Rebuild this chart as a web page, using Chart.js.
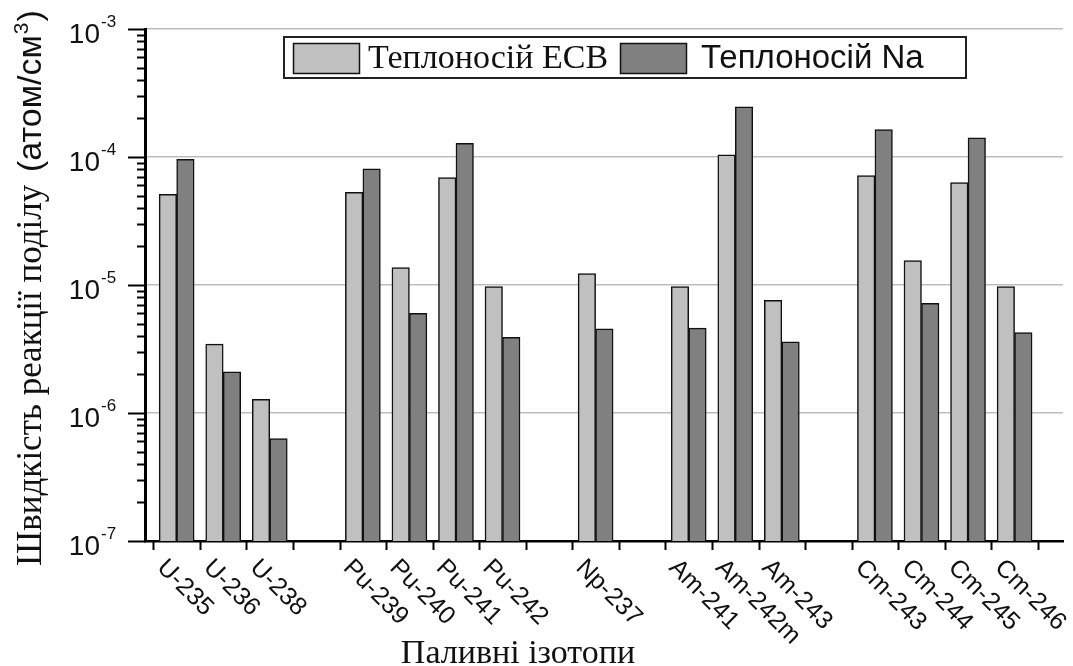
<!DOCTYPE html>
<html>
<head>
<meta charset="utf-8">
<script src="https://cdn.jsdelivr.net/npm/chart.js@4.4.1/dist/chart.umd.min.js"></script>
<style>
  html, body { margin: 0; padding: 0; background: #fff; }
  canvas { display: block; }
</style>
</head>
<body>
<canvas id="chart" width="1073" height="666"></canvas>
<script>
// Fuel isotopes; empty strings are spacer slots between element groups
const isotopes = ['U-235', 'U-236', 'U-238', '', 'Pu-239', 'Pu-240', 'Pu-241', 'Pu-242', '',
  'Np-237', '', 'Am-241', 'Am-242m', 'Am-243', '', 'Cm-243', 'Cm-244', 'Cm-245', 'Cm-246'];

// Fission reaction rates, atom/cm3
const ecbRates = [5.1e-5, 3.45e-6, 1.28e-6, null, 5.3e-5, 1.37e-5, 6.9e-5, 9.7e-6, null,
  1.23e-5, null, 9.7e-6, 1.04e-4, 7.6e-6, null, 7.15e-5, 1.55e-5, 6.3e-5, 9.7e-6];
const naRates = [9.6e-5, 2.1e-6, 6.3e-7, null, 8.1e-5, 6.0e-6, 1.28e-4, 3.9e-6, null,
  4.55e-6, null, 4.6e-6, 2.47e-4, 3.6e-6, null, 1.64e-4, 7.2e-6, 1.41e-4, 4.25e-6];

const seriesNames = ['Теплоносій ЕСВ', 'Теплоносій Na'];
const seriesColors = ['#c0c0c0', '#808080'];
const yDecades = [-7, -6, -5, -4, -3];
const xTitle = 'Паливні ізотопи';
const yTitleMain = 'Швидкість реакції поділу';
const yTitleUnit = '(атом/см';

const SERIF = '"Liberation Serif", "Times New Roman", serif';
const SANS = '"Liberation Sans", Arial, sans-serif';

const toPoints = vals => vals.map((v, i) => ({ x: i + 0.5, y: v }));

const isDecade = v => Math.abs(Math.log10(v) - Math.round(Math.log10(v))) < 1e-9;

const decorations = {
  id: 'decorations',
  afterDraw(chart) {
    const { ctx, chartArea, scales } = chart;
    const xs = scales.x, ys = scales.y;
    const left = chartArea.left, bottom = chartArea.bottom;
    ctx.save();

    // y-axis tick marks: long at decades, short at 2..9
    ctx.strokeStyle = '#000';
    ctx.lineWidth = 2;
    yDecades.forEach((d, k) => {
      const y = Math.round(ys.getPixelForValue(Math.pow(10, d))) + 0.5;
      ctx.beginPath(); ctx.moveTo(left - 17, y); ctx.lineTo(left + 1, y); ctx.stroke();
      if (k < yDecades.length - 1) {
        for (let m = 2; m <= 9; m++) {
          const ym = Math.round(ys.getPixelForValue(m * Math.pow(10, d))) + 0.5;
          ctx.beginPath(); ctx.moveTo(left - 8, ym); ctx.lineTo(left + 2, ym); ctx.stroke();
        }
      }
    });

    // x-axis tick marks on slot boundaries
    for (let i = 0; i <= isotopes.length; i++) {
      const x = Math.round(xs.getPixelForValue(i)) + 0.5;
      ctx.beginPath(); ctx.moveTo(x, bottom); ctx.lineTo(x, bottom + 9); ctx.stroke();
    }

    // y tick labels 10^d
    ctx.fillStyle = '#111';
    yDecades.forEach(d => {
      const y = ys.getPixelForValue(Math.pow(10, d));
      ctx.font = '28px ' + SANS;
      ctx.textAlign = 'right';
      ctx.textBaseline = 'alphabetic';
      ctx.fillText('10', 100, y + 14);
      ctx.font = '17px ' + SANS;
      ctx.textAlign = 'left';
      ctx.fillText(String(d), 101, y - 2);
    });

    // x tick labels, rotated clockwise
    ctx.font = '25px ' + SANS;
    ctx.textAlign = 'left';
    ctx.textBaseline = 'top';
    isotopes.forEach((name, i) => {
      if (!name) return;
      const cx = xs.getPixelForValue(i + 0.5);
      ctx.save();
      ctx.translate(cx - 7, bottom + 14);
      ctx.rotate(Math.PI / 4);
      ctx.fillText(name, 0, 0);
      ctx.restore();
    });

    // x axis title
    ctx.font = '34px ' + SERIF;
    ctx.textAlign = 'center';
    ctx.textBaseline = 'alphabetic';
    ctx.fillText(xTitle, 518, 663);

    // y axis title: serif name followed by sans unit
    ctx.save();
    ctx.translate(41, 566);
    ctx.rotate(-Math.PI / 2);
    ctx.textAlign = 'left';
    ctx.font = '35px ' + SERIF;
    ctx.fillText(yTitleMain, 0, 0);
    let pos = ctx.measureText(yTitleMain + ' ').width + 4;
    ctx.font = '34px ' + SANS;
    ctx.fillText(yTitleUnit, pos, 0);
    pos += ctx.measureText(yTitleUnit).width;
    ctx.font = '21px ' + SANS;
    ctx.fillText('3', pos + 1, -13);
    pos += ctx.measureText('3').width + 2;
    ctx.font = '34px ' + SANS;
    ctx.fillText(')', pos, 0);
    ctx.restore();

    // legend box
    ctx.fillStyle = '#fff';
    ctx.fillRect(284, 37, 682, 41);
    ctx.strokeStyle = '#222';
    ctx.lineWidth = 2;
    ctx.strokeRect(284, 37, 682, 41);
    const swatchX = [293, 620];
    const textX = [368, 701];
    const fonts = ['34px ' + SERIF, '33px ' + SANS];
    chart.data.datasets.forEach((ds, k) => {
      ctx.fillStyle = ds.backgroundColor;
      ctx.fillRect(swatchX[k], 43, 66, 30);
      ctx.strokeStyle = '#111';
      ctx.lineWidth = 1.5;
      ctx.strokeRect(swatchX[k] + 0.5, 43.5, 66, 30);
      ctx.fillStyle = '#111';
      ctx.font = fonts[k];
      ctx.textAlign = 'left';
      ctx.textBaseline = 'middle';
      ctx.fillText(ds.label, textX[k], 59);
    });

    ctx.restore();
  }
};

new Chart(document.getElementById('chart'), {
  type: 'bar',
  data: {
    datasets: [
      { label: seriesNames[0], data: toPoints(ecbRates), backgroundColor: seriesColors[0],
        borderColor: '#111', borderWidth: 1.5, barThickness: 17.5 },
      { label: seriesNames[1], data: toPoints(naRates), backgroundColor: seriesColors[1],
        borderColor: '#111', borderWidth: 1.5, barThickness: 17.5 }
    ]
  },
  options: {
    responsive: false,
    animation: false,
    devicePixelRatio: 1,
    layout: { padding: { left: 145, right: 10, top: 29, bottom: 125 } },
    plugins: { legend: { display: false }, tooltip: { enabled: false } },
    scales: {
      x: {
        type: 'linear',
        offset: false,
        min: -0.18,
        max: isotopes.length + 0.54,
        ticks: { display: false, stepSize: 1, includeBounds: false },
        grid: { drawOnChartArea: false, drawTicks: false, offset: false },
        border: { display: true, color: '#000', width: 2.5 }
      },
      y: {
        type: 'logarithmic',
        min: 1e-7,
        max: 1e-3,
        ticks: { display: false },
        grid: {
          drawTicks: false,
          color: c => (c.tick && isDecade(c.tick.value)) ? '#bdbdbd' : 'rgba(0,0,0,0)',
          lineWidth: 1.5
        },
        border: { display: true, color: '#000', width: 3 }
      }
    }
  },
  plugins: [decorations]
});
</script>
</body>
</html>
